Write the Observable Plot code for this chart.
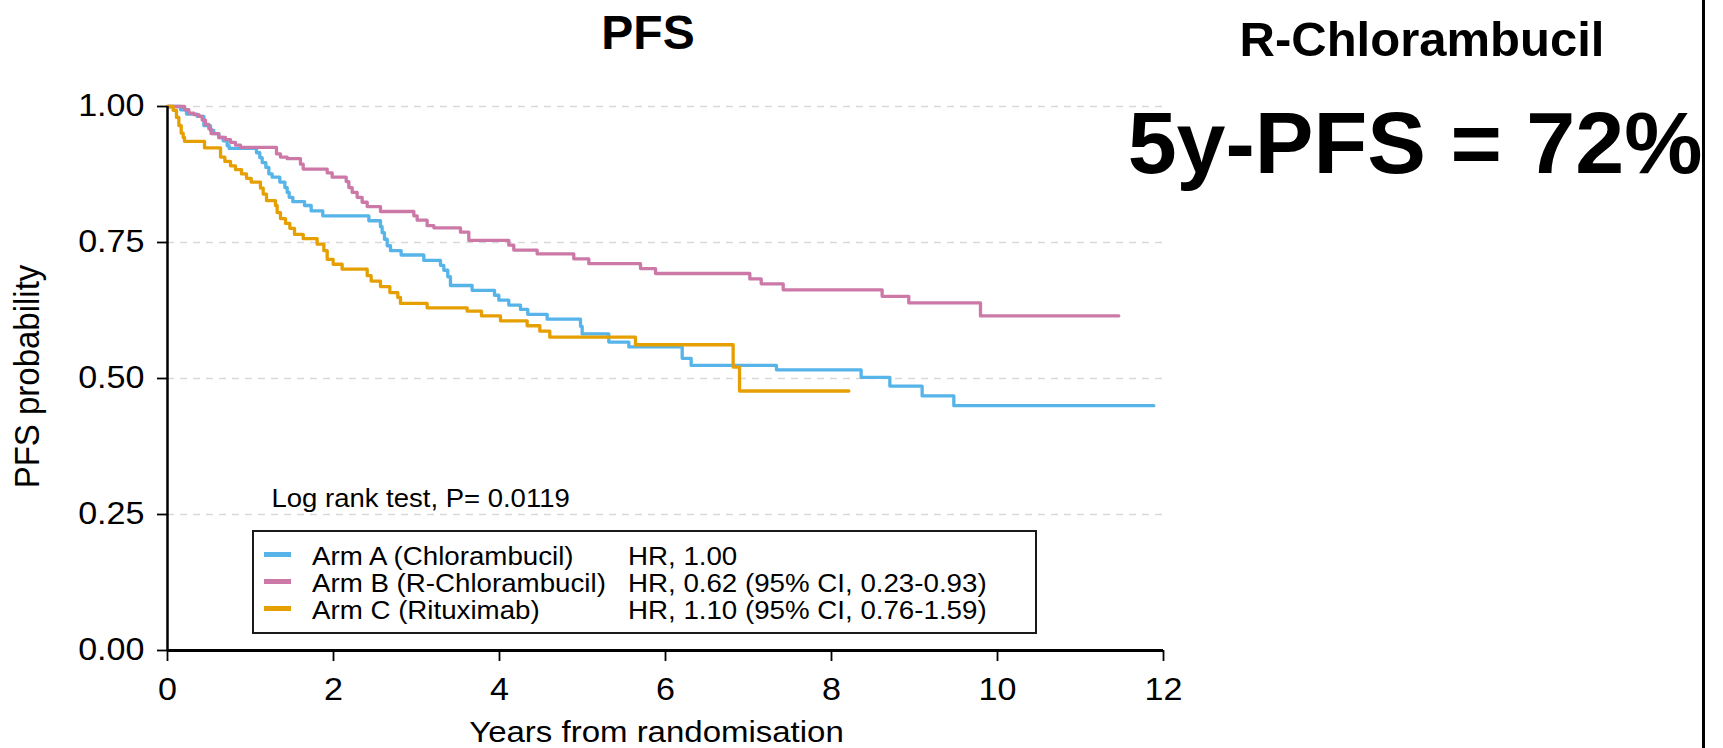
<!DOCTYPE html>
<html>
<head>
<meta charset="utf-8">
<script src="https://cdn.jsdelivr.net/npm/d3@7"></script>
<script src="https://cdn.jsdelivr.net/npm/@observablehq/plot@0.6"></script>
<style>
  html, body { margin: 0; padding: 0; background: #fff; }
  #page { position: relative; width: 1723px; height: 748px; overflow: hidden;
          font-family: "Liberation Sans", Arial, Helvetica, sans-serif; color: #000; }
  #page svg { position: absolute; left: 0; top: 0; }
  .abs { position: absolute; white-space: nowrap; line-height: 1; }
  .title { font-weight: bold; transform: translateX(-50%); }
  #legend { position: absolute; box-sizing: border-box; border: 2px solid #1a1a1a; background: #fff; }
  .sw { position: absolute; height: 5px; }
  .lt { position: absolute; white-space: nowrap; line-height: 1; font-size: 26px;
        transform: scaleX(1.065); transform-origin: 0 0; }
  #rightRule { position: absolute; background: #000; }
</style>
</head>
<body>
<div id="page"></div>
<script>
// Kaplan–Meier step points (years from randomisation, PFS probability)
const armA_time = [0, 0.157, 0.229, 0.357, 0.438, 0.518, 0.558, 0.618, 0.671, 0.719, 0.743, 1.072, 1.112, 1.141, 1.185, 1.221, 1.261, 1.353, 1.414, 1.442, 1.466, 1.510, 1.651, 1.731, 1.871, 2.426, 2.566, 2.586, 2.614, 2.647, 2.687, 2.815, 3.088, 3.289, 3.329, 3.377, 3.409, 3.670, 3.940, 3.992, 4.112, 4.253, 4.341, 4.574, 4.976, 4.996, 5.317, 5.558, 6.201, 6.309, 7.337, 8.357, 8.703, 9.092, 9.474, 11.883];
const armA_surv = [1, 0.994, 0.986, 0.982, 0.965, 0.956, 0.950, 0.943, 0.937, 0.928, 0.923, 0.915, 0.906, 0.897, 0.888, 0.876, 0.870, 0.861, 0.851, 0.842, 0.833, 0.825, 0.818, 0.808, 0.799, 0.790, 0.779, 0.768, 0.756, 0.744, 0.735, 0.727, 0.717, 0.708, 0.699, 0.687, 0.671, 0.662, 0.653, 0.644, 0.635, 0.627, 0.618, 0.609, 0.596, 0.582, 0.567, 0.558, 0.537, 0.524, 0.516, 0.502, 0.486, 0.468, 0.450, 0.450];

const armB_time = [0, 0.205, 0.257, 0.317, 0.378, 0.418, 0.458, 0.498, 0.526, 0.618, 0.699, 0.759, 0.819, 0.880, 1.313, 1.361, 1.442, 1.602, 1.635, 1.924, 1.984, 2.153, 2.185, 2.225, 2.285, 2.345, 2.406, 2.566, 2.968, 3.008, 3.128, 3.209, 3.530, 3.630, 4.112, 4.172, 4.454, 4.895, 5.076, 5.699, 5.880, 7.016, 7.153, 7.418, 8.610, 8.931, 9.795, 11.461];
const armB_surv = [1, 0.994, 0.988, 0.985, 0.982, 0.975, 0.967, 0.959, 0.950, 0.943, 0.939, 0.934, 0.929, 0.925, 0.913, 0.907, 0.904, 0.894, 0.885, 0.878, 0.870, 0.862, 0.851, 0.842, 0.833, 0.824, 0.816, 0.807, 0.799, 0.791, 0.781, 0.777, 0.769, 0.754, 0.745, 0.736, 0.729, 0.720, 0.711, 0.702, 0.693, 0.683, 0.674, 0.663, 0.651, 0.639, 0.615, 0.615];

const armC_time = [0, 0.068, 0.108, 0.137, 0.165, 0.189, 0.205, 0.446, 0.639, 0.691, 0.759, 0.819, 0.892, 0.952, 1.008, 1.120, 1.153, 1.193, 1.301, 1.321, 1.361, 1.422, 1.474, 1.530, 1.635, 1.803, 1.884, 1.924, 1.996, 2.104, 2.406, 2.454, 2.566, 2.679, 2.775, 2.807, 3.128, 3.610, 3.783, 4.012, 4.333, 4.486, 4.606, 5.638, 6.815, 6.892, 8.209];
const armC_surv = [1, 0.993, 0.980, 0.965, 0.951, 0.943, 0.936, 0.924, 0.907, 0.899, 0.891, 0.884, 0.876, 0.868, 0.861, 0.850, 0.839, 0.827, 0.818, 0.805, 0.794, 0.785, 0.776, 0.765, 0.757, 0.747, 0.735, 0.719, 0.710, 0.701, 0.689, 0.679, 0.669, 0.658, 0.649, 0.638, 0.630, 0.624, 0.615, 0.606, 0.597, 0.587, 0.576, 0.562, 0.521, 0.477, 0.477];

const arms = ["Arm A (Chlorambucil)", "Arm B (R-Chlorambucil)", "Arm C (Rituximab)"];
const hrLabels = ["HR, 1.00", "HR, 0.62 (95% CI, 0.23-0.93)", "HR, 1.10 (95% CI, 0.76-1.59)"];
const armColors = ["#56B4E9", "#CC79A7", "#E69F00"];

const xTicks = [0, 2, 4, 6, 8, 10, 12];
const yTicks = [0, 0.25, 0.5, 0.75, 1];
const gridLevels = [0.25, 0.5, 0.75, 1];

const panelTitle = "PFS";
const sideTitle = "R-Chlorambucil";
const sideStat = "5y-PFS = 72%";
const xLabel = "Years from randomisation";
const yLabel = "PFS probability";
const testNote = "Log rank test, P= 0.0119";

// tidy table for the step lines
const series = [
  [arms[0], armA_time, armA_surv],
  [arms[1], armB_time, armB_surv],
  [arms[2], armC_time, armC_surv]
];
const km = series.flatMap(([arm, t, s]) => t.map((time, i) => ({arm, time, surv: s[i]})));

const font = '"Liberation Sans", Arial, Helvetica, sans-serif';

const chart = Plot.plot({
  width: 1723,
  height: 748,
  marginLeft: 167,
  marginRight: 560,
  marginTop: 106,
  marginBottom: 98,
  style: {fontFamily: font, color: "#000", background: "transparent", overflow: "visible"},
  x: {domain: [0, 12]},
  y: {domain: [0, 1]},
  color: {domain: arms, range: armColors},
  marks: [
    Plot.ruleY(gridLevels, {stroke: "#d9d9d9", strokeWidth: 1.5, strokeDasharray: "7,6"}),
    Plot.line(km, {x: "time", y: "surv", z: "arm", stroke: "arm", curve: "step-after", strokeWidth: 3.3}),
    Plot.ruleX([0], {stroke: "#000", strokeWidth: 2.5}),
    Plot.ruleY([0], {stroke: "#000", strokeWidth: 3}),
    Plot.axisX({ticks: xTicks, tickSize: 11, tickPadding: 16, fontSize: 31, strokeWidth: 1.8, label: null, tickFormat: d => String(d)}),
    Plot.axisY({ticks: yTicks, tickSize: 10, tickPadding: 13, fontSize: 31, strokeWidth: 1.8, label: null, tickFormat: d3.format(".2f")}),
    Plot.text([xLabel], {text: d => d, frameAnchor: "bottom", textAnchor: "middle", lineAnchor: "bottom", dx: -9, dy: 91, fontSize: 30, fill: "#000"}),
    Plot.text([yLabel], {text: d => d, frameAnchor: "left", textAnchor: "middle", lineAnchor: "bottom", rotate: -90, dx: -129, dy: -2, fontSize: 33, fill: "#000"}),
    Plot.text([testNote], {text: d => d, frameAnchor: "bottom-left", textAnchor: "start", lineAnchor: "bottom", dx: 104, dy: -144, fontSize: 25, fill: "#000"})
  ]
});

// the graph's lettering is set slightly wide: stretch each label about its own anchor
chart.querySelectorAll("text").forEach(t => {
  const tr = t.getAttribute("transform");
  if (!tr || !tr.includes("translate")) return;
  t.setAttribute("transform", tr + (tr.includes("rotate") ? " scale(1,1.05)" : " scale(1.1,1)"));
});

const page = document.getElementById("page");
page.appendChild(chart);

// headings (positioned by baseline: top = baseline - 0.8465 * size)
function heading(text, size, centerX, baseline) {
  const d = document.createElement("div");
  d.className = "abs title";
  d.textContent = text;
  d.style.fontSize = size + "px";
  d.style.left = centerX + "px";
  d.style.top = (baseline - 0.8465 * size) + "px";
  page.appendChild(d);
}
heading(panelTitle, 48, 648, 50);
heading(sideTitle, 49, 1422, 56);
heading(sideStat, 88, 1415, 173);

// legend box
const legend = document.createElement("div");
legend.id = "legend";
Object.assign(legend.style, {left: "252px", top: "530px", width: "785px", height: "104px"});
page.appendChild(legend);
arms.forEach((arm, i) => {
  const base = 565 + i * 27 - 530 - 2;
  const sw = document.createElement("div");
  sw.className = "sw";
  Object.assign(sw.style, {left: "10px", top: (base - 13) + "px", width: "27px", background: armColors[i]});
  legend.appendChild(sw);
  const a = document.createElement("div");
  a.className = "lt";
  a.textContent = arm;
  Object.assign(a.style, {left: "58px", top: (base - 0.8465 * 26) + "px"});
  legend.appendChild(a);
  const h = document.createElement("div");
  h.className = "lt";
  h.textContent = hrLabels[i];
  Object.assign(h.style, {left: "374px", top: (base - 0.8465 * 26) + "px"});
  legend.appendChild(h);
});

// panel divider on the right
const rule = document.createElement("div");
rule.id = "rightRule";
Object.assign(rule.style, {left: "1702px", top: "0px", width: "2.5px", height: "748px"});
page.appendChild(rule);
</script>
</body>
</html>
